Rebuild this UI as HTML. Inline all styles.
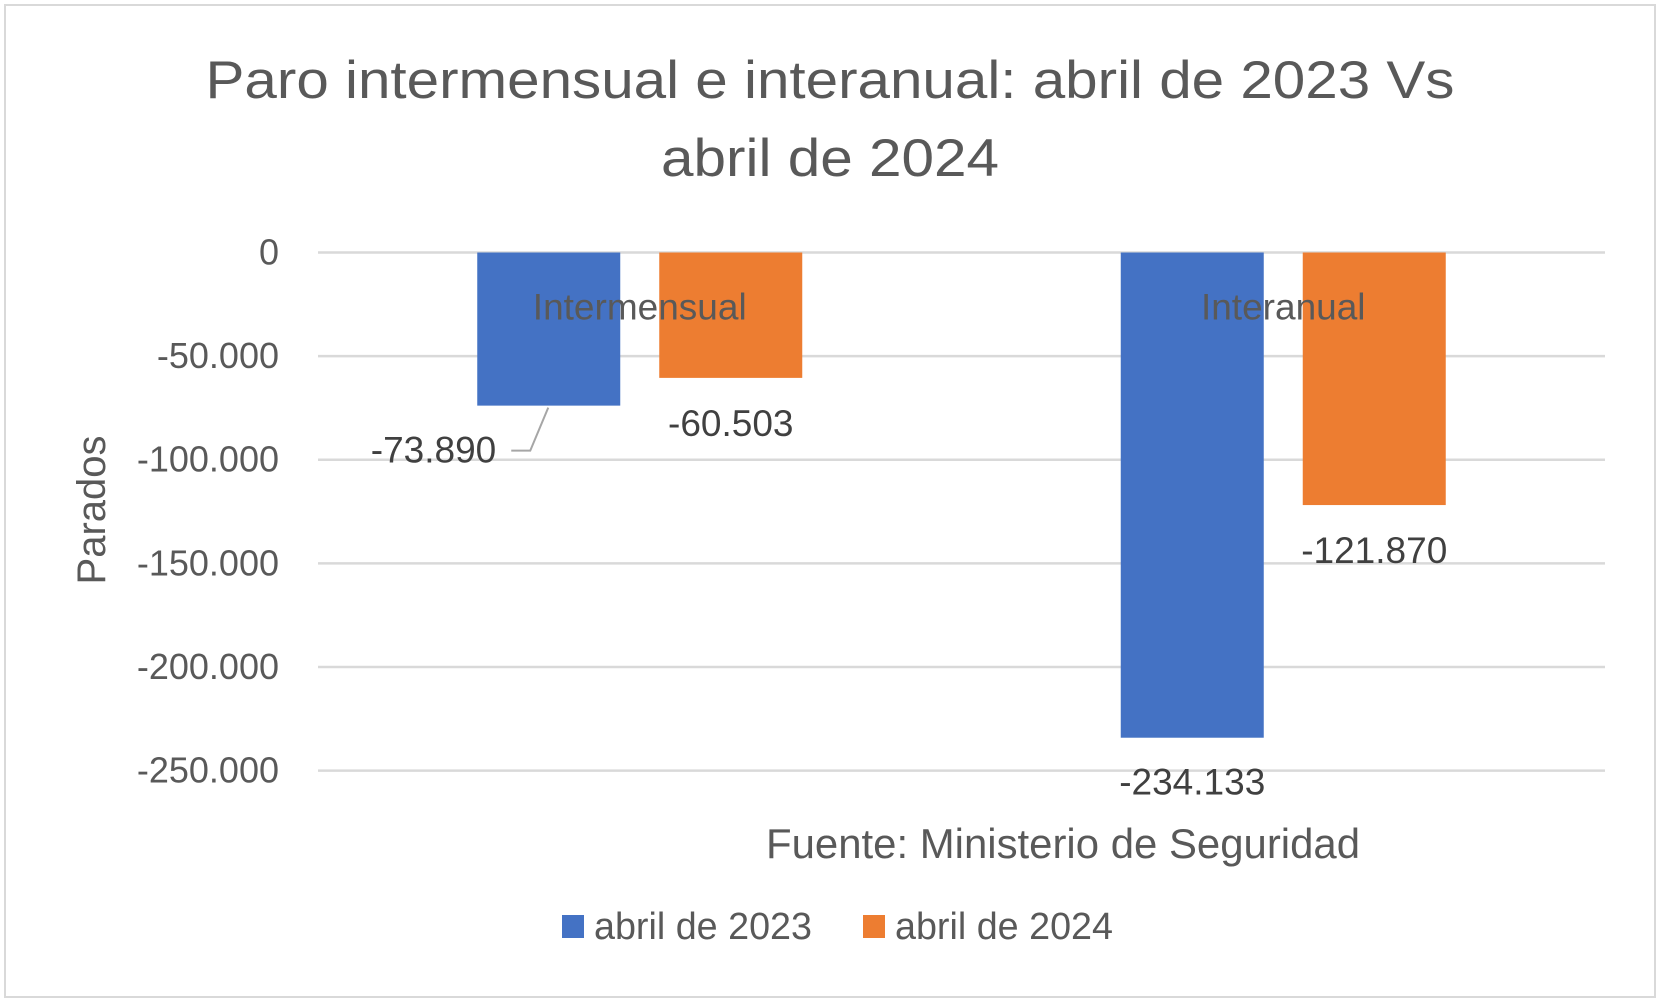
<!DOCTYPE html>
<html><head><meta charset="utf-8"><style>
html,body{margin:0;padding:0;background:#fff}
svg{display:block;font-family:"Liberation Sans",sans-serif}
</style></head><body>
<svg id="chart" width="1663" height="1003" viewBox="0 0 1663 1003">
<rect x="5" y="5" width="1650" height="992" fill="#fff" stroke="#d9d9d9" stroke-width="2"/>
<g fill="#595959" font-size="53" text-anchor="middle">
<text x="830" y="98" textLength="1249" lengthAdjust="spacingAndGlyphs">Paro intermensual e interanual: abril de 2023 Vs</text>
<text x="830" y="176" textLength="338" lengthAdjust="spacingAndGlyphs">abril de 2024</text>
</g>
<g id="grid"></g>
<g id="bars"></g>
<g id="labels"></g>
<text x="0" y="0" transform="translate(105,510) rotate(-90)" text-anchor="middle" font-size="40" fill="#595959">Parados</text>
<text x="1063" y="858" text-anchor="middle" font-size="42" fill="#595959" textLength="594" lengthAdjust="spacingAndGlyphs">Fuente: Ministerio de Seguridad</text>
<g font-size="38" fill="#595959">
<rect x="562" y="915" width="22" height="23" fill="#4472c4"/>
<text x="594" y="939" textLength="218" lengthAdjust="spacingAndGlyphs">abril de 2023</text>
<rect x="863" y="915" width="22" height="23" fill="#ed7d31"/>
<text x="895" y="939" textLength="218" lengthAdjust="spacingAndGlyphs">abril de 2024</text>
</g>
</svg>
<script>
const categories = ["Intermensual", "Interanual"];
const series2023 = [-73890, -234133];
const series2024 = [-60503, -121870];
const tickValues = [0, -50000, -100000, -150000, -200000, -250000];
const tickLabels = ["0", "-50.000", "-100.000", "-150.000", "-200.000", "-250.000"];
const valueLabels2023 = ["-73.890", "-234.133"];
const valueLabels2024 = ["-60.503", "-121.870"];

const NS = "http://www.w3.org/2000/svg";
const plotL = 318, plotR = 1605, y0 = 252.5, yMin = -250000, yBottom = 770.6;
const yScale = v => y0 + (v / yMin) * (yBottom - y0);
const catW = (plotR - plotL) / categories.length;
const xCenter = i => plotL + catW * (i + 0.5);
const barW = 143, gap = 39;

function mk(tag, attrs, parent, text) {
  const e = document.createElementNS(NS, tag);
  for (const k in attrs) e.setAttribute(k, attrs[k]);
  if (text !== undefined) e.textContent = text;
  parent.appendChild(e);
  return e;
}
const grid = document.getElementById('grid');
const bars = document.getElementById('bars');
const labels = document.getElementById('labels');

tickValues.forEach((v, i) => {
  const y = yScale(v);
  const l = mk('line', {x1: plotL, x2: plotR, y1: y, y2: y, stroke: '#d9d9d9', 'stroke-width': 2.5}, grid);
  
  
  const t = mk('text', {x: 279, y: y + 12, 'text-anchor': 'end', 'font-size': 36, fill: '#595959'}, grid, tickLabels[i]);
  
  
});

categories.forEach((c, i) => {
  const cx = xCenter(i);
  const xb = cx - gap / 2 - barW, xo = cx + gap / 2;
  const yb = yScale(series2023[i]), yo = yScale(series2024[i]);
  const b = mk('rect', {x: xb, y: y0, width: barW, height: yb - y0, fill: '#4472c4'}, bars);
  
  
  const o = mk('rect', {x: xo, y: y0, width: barW, height: yo - y0, fill: '#ed7d31'}, bars);
  
  
  const cl = mk('text', {x: cx, y: y0 + 67, 'text-anchor': 'middle', 'font-size': 37, fill: '#595959'}, labels, c);
  
  

  const lo = mk('text', {x: xo + barW / 2, y: yo + 58, 'text-anchor': 'middle', 'font-size': 37, fill: '#404040'}, labels, valueLabels2024[i]);
  
  
  let lb;
  if (i === 0) {
    const ly = yb + 57;
    lb = mk('text', {x: xb + 19, y: ly, 'text-anchor': 'end', 'font-size': 37, fill: '#404040'}, labels, valueLabels2023[i]);
    const ll = mk('polyline', {points: `${xb + 34},${ly - 12} ${xb + 53},${ly - 12} ${xb + 71},${yb + 2}`, fill: 'none', stroke: '#a6a6a6', 'stroke-width': 2}, labels);
    
    
  } else {
    lb = mk('text', {x: xb + barW / 2, y: yb + 57, 'text-anchor': 'middle', 'font-size': 37, fill: '#404040'}, labels, valueLabels2023[i]);
  }
  
  
});
</script>
</body></html>
